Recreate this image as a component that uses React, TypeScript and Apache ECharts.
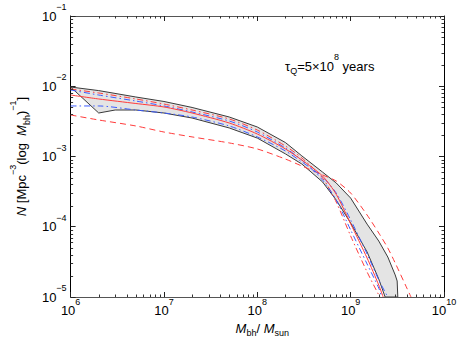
import React, { useEffect, useRef } from 'react';
import * as echarts from 'echarts';

// Black-hole mass (M_sun) vs number density N [Mpc^-3 (log M_bh)^-1]
const massRange = [1e6, 1e10];
const densityRange = [1e-5, 1e-1];
const massDecades = [6, 7, 8, 9];
const densityDecades = [-5, -4, -3, -2];
const minorSteps = [2, 3, 4, 5, 6, 7, 8, 9];

const bandUpper: [number, number][] = [
  [1e6, 9.75e-3], [2e6, 8.67e-3], [5e6, 7.03e-3], [1e7, 6.07e-3], [2e7, 4.99e-3],
  [5e7, 3.65e-3], [1e8, 2.63e-3], [2e8, 1.58e-3], [3e8, 1.02e-3], [5e8, 6.0e-4],
  [7e8, 4.2e-4], [1e9, 2.56e-4], [1.5e9, 1.09e-4], [2e9, 6.26e-5], [2.5e9, 3.71e-5],
  [3e9, 2.06e-5], [3.15e9, 1.69e-5], [3.2e9, 1e-5],
];
const bandLower: [number, number][] = [
  [1e6, 9.75e-3], [2e6, 4.16e-3], [3e6, 4.59e-3], [5e6, 4.59e-3], [1e7, 4.16e-3],
  [2e7, 3.53e-3], [5e7, 2.55e-3], [1e8, 1.83e-3], [2e8, 1.09e-3], [3e8, 7.81e-4],
  [5e8, 4.34e-4], [7e8, 2.4e-4], [1e9, 1.13e-4], [1.5e9, 4.38e-5], [2e9, 1.8e-5],
  [2.34e9, 1e-5],
];
const redSolid: [number, number][] = [
  [1e6, 7.5e-3], [2e6, 6.59e-3], [5e6, 5.68e-3], [1e7, 5.07e-3], [2e7, 4.16e-3],
  [5e7, 3.0e-3], [1e8, 2.09e-3], [2e8, 1.28e-3], [3e8, 8.9e-4], [5e8, 5.27e-4],
  [7e8, 2.9e-4], [1e9, 1.1e-4], [1.5e9, 3.59e-5], [2e9, 1.48e-5], [2.23e9, 1e-5],
];
const redDashDot: [number, number][] = [
  [1e6, 9.14e-3], [2e6, 8.02e-3], [5e6, 6.59e-3], [1e7, 5.58e-3], [2e7, 4.59e-3],
  [5e7, 3.42e-3], [1e8, 2.38e-3], [2e8, 1.41e-3], [3e8, 9.53e-4], [5e8, 4.94e-4],
  [7e8, 2.25e-4], [1e9, 7.38e-5], [1.5e9, 2.27e-5], [2e9, 1.07e-5], [2.07e9, 1e-5],
];
const redDashed: [number, number][] = [
  [1e6, 3.9e-3], [2e6, 3.31e-3], [5e6, 2.72e-3], [1e7, 2.23e-3], [2e7, 1.9e-3],
  [5e7, 1.56e-3], [1e8, 1.28e-3], [2e8, 9.2e-4], [3e8, 7.32e-4], [5e8, 5.46e-4],
  [7e8, 4.48e-4], [1e9, 3.02e-4], [1.5e9, 1.47e-4], [2e9, 8.15e-5], [2.5e9, 4.98e-5],
  [3e9, 3.05e-5], [4e9, 1.34e-5], [4.43e9, 1e-5],
];
const blueUpper: [number, number][] = [
  [1e6, 8.85e-3], [2e6, 7.5e-3], [5e6, 6.16e-3], [1e7, 5.24e-3], [2e7, 4.3e-3],
  [5e7, 3.2e-3], [1e8, 2.23e-3], [2e8, 1.32e-3], [3e8, 8.9e-4], [5e8, 4.62e-4],
  [7e8, 2.4e-4], [1e9, 9.0e-5], [1.5e9, 2.95e-5], [2e9, 1.34e-5], [2.15e9, 1e-5],
];
const blueLower: [number, number][] = [
  [1e6, 5.24e-3], [2e6, 5.24e-3], [5e6, 4.59e-3], [1e7, 4.16e-3], [2e7, 3.65e-3],
  [5e7, 2.72e-3], [1e8, 1.9e-3], [2e8, 1.2e-3], [3e8, 8.35e-4], [5e8, 5.1e-4],
  [7e8, 3.02e-4], [1e9, 1.25e-4], [1.5e9, 4.09e-5], [2e9, 1.75e-5], [2.5e9, 1e-5],
];

const FONT = '"Liberation Sans", Arial, Helvetica, sans-serif';
const RED = '#ff3b3b';
const BLUE = '#3d5cff';

const richStyles = {
  b: { fontSize: 13, fontFamily: FONT, color: '#000', lineHeight: 18, verticalAlign: 'middle' },
  i: { fontSize: 13, fontFamily: FONT, fontStyle: 'italic', color: '#000', lineHeight: 18, verticalAlign: 'middle' },
  sup: { fontSize: 9, fontFamily: FONT, color: '#000', verticalAlign: 'middle', padding: [0, 0, 18, 0] },
  sub: { fontSize: 9, fontFamily: FONT, color: '#000', verticalAlign: 'middle', padding: [10, 0, 0, 0] },
};

const powLabel = (v: number) => {
  const e = Math.round(Math.log10(v));
  return `{b|10}{sup|${e < 0 ? '\u2212' + -e : e}}`;
};

const minorMass: number[] = [];
massDecades.forEach((d) => minorSteps.forEach((k) => minorMass.push(k * Math.pow(10, d))));
const minorDensity: number[] = [];
densityDecades.forEach((d) => minorSteps.forEach((k) => minorDensity.push(k * Math.pow(10, d))));

export default function App() {
  const ref = useRef<HTMLDivElement>(null);
  useEffect(() => {
    document.body.style.margin = '0';
    const chart = echarts.init(ref.current!, null, { renderer: 'svg' });
    const axisCommon = (pos: string, color: string) => ({
      type: 'log',
      logBase: 10,
      position: pos,
      axisLine: { show: true, onZero: false, lineStyle: { color, width: 1 } },
      axisTick: { show: true, inside: true, length: 5, lineStyle: { color: '#222', width: 1 } },
      minorTick: { show: false },
      splitLine: { show: false },
      minorSplitLine: { show: false },
    });
    const lineSeries = (name: string, data: [number, number][], color: string, type: any, z: number) => ({
      name,
      type: 'line',
      data,
      showSymbol: false,
      symbol: 'none',
      smooth: 0.25,
      clip: true,
      z,
      lineStyle: { color, width: 1, type },
      silent: true,
    });
    const tickStyle = { stroke: '#333', lineWidth: 1 };
    const L = 2.5;
    chart.setOption({
      animation: false,
      grid: { left: 70, right: 19, top: 16, bottom: 54, containLabel: false },
      xAxis: [
        {
          ...axisCommon('bottom', '#555'),
          min: massRange[0],
          max: massRange[1],
          axisLabel: { show: true, margin: 0, formatter: powLabel, rich: richStyles },
          name: '{i|M}{sub|bh}{b|/ }{i|M}{sub|sun}',
          nameLocation: 'middle',
          nameGap: 16,
          nameTextStyle: { rich: richStyles, padding: [0, 0, 0, 10] },
        },
        {
          ...axisCommon('top', '#555'),
          min: massRange[0],
          max: massRange[1],
          axisLabel: { show: false },
        },
      ],
      yAxis: [
        {
          ...axisCommon('left', '#000'),
          min: densityRange[0],
          max: densityRange[1],
          axisLabel: { show: true, margin: 4, formatter: powLabel, rich: richStyles },
          name: '{i|N}{b| [Mpc}{sup|\u22123}{b|(log  }{i|M}{sub|bh}{b|)}{sup|\u22121}{b|]}',
          nameLocation: 'middle',
          nameRotate: 90,
          nameGap: 27,
          nameTextStyle: { rich: richStyles },
        },
        {
          ...axisCommon('right', '#000'),
          min: densityRange[0],
          max: densityRange[1],
          axisLabel: { show: false },
        },
      ],
      graphic: [
        {
          type: 'text',
          x: 285,
          y: 66,
          style: {
            text: '{b|\u03c4}{sub|Q}{b|=5\u00d710}{sup|8}{b| years}',
            rich: richStyles,
            verticalAlign: 'middle',
            align: 'left',
          },
        },
      ],
      series: [
        {
          type: 'custom',
          name: 'range',
          coordinateSystem: 'cartesian2d',
          data: [[1e8, 1e-3]],
          clip: true,
          silent: true,
          z: 1,
          renderItem: (_params: any, api: any) => {
            const pts = [...bandUpper, ...bandLower.slice().reverse()].map((p) => api.coord(p));
            return {
              type: 'polygon',
              shape: { points: pts },
              style: { fill: '#e4e4e4', stroke: '#3a3a3a', lineWidth: 1 },
            };
          },
        },
        {
          type: 'custom',
          name: 'minor ticks x',
          coordinateSystem: 'cartesian2d',
          data: minorMass.map((m) => [m, 1e-3]),
          clip: false,
          silent: true,
          z: 10,
          renderItem: (params: any, api: any) => {
            const v = minorMass[params.dataIndex];
            const b = api.coord([v, densityRange[0]]);
            const t = api.coord([v, densityRange[1]]);
            const x = Math.round(b[0]) + 0.5;
            return {
              type: 'group',
              children: [
                { type: 'line', shape: { x1: x, y1: b[1], x2: x, y2: b[1] - L }, style: tickStyle },
                { type: 'line', shape: { x1: x, y1: t[1], x2: x, y2: t[1] + L }, style: tickStyle },
              ],
            };
          },
        },
        {
          type: 'custom',
          name: 'minor ticks y',
          coordinateSystem: 'cartesian2d',
          data: minorDensity.map((d) => [1e8, d]),
          clip: false,
          silent: true,
          z: 10,
          renderItem: (params: any, api: any) => {
            const v = minorDensity[params.dataIndex];
            const l = api.coord([massRange[0], v]);
            const r = api.coord([massRange[1], v]);
            const y = Math.round(l[1]) + 0.5;
            return {
              type: 'group',
              children: [
                { type: 'line', shape: { x1: l[0], y1: y, x2: l[0] + L, y2: y }, style: tickStyle },
                { type: 'line', shape: { x1: r[0], y1: y, x2: r[0] - L, y2: y }, style: tickStyle },
              ],
            };
          },
        },
        lineSeries('red dashed', redDashed, RED, [6, 4], 3),
        lineSeries('red dash-dot', redDashDot, RED, [6, 3, 1.5, 3], 3),
        lineSeries('blue upper', blueUpper, BLUE, [6, 3, 1.5, 3], 4),
        lineSeries('blue lower', blueLower, BLUE, [6, 3, 1.5, 3], 4),
        lineSeries('red solid', redSolid, RED, 'solid', 5),
      ],
    });
    return () => chart.dispose();
  }, []);
  return <div ref={ref} style={{ width: 463, height: 351 }} />;
}
